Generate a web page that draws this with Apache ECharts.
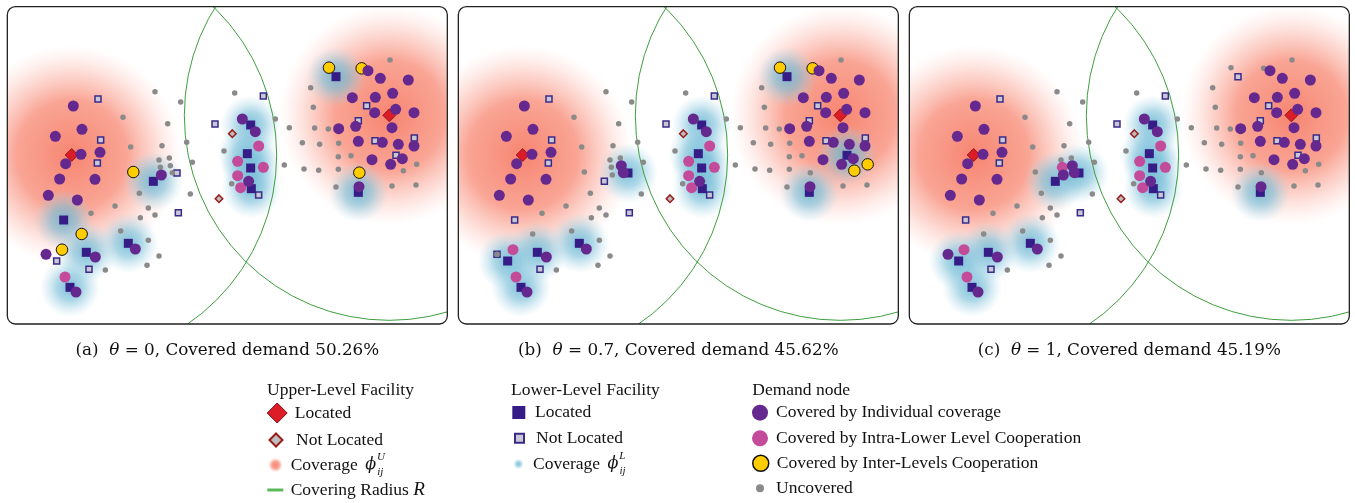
<!DOCTYPE html>
<html>
<head>
<meta charset="utf-8">
<script src="https://cdn.jsdelivr.net/npm/echarts@6/dist/echarts.min.js"></script>
<style>
  html, body { margin: 0; padding: 0; background: #fff; }
  #chart { width: 1355px; height: 503px; }
</style>
</head>
<body>
<div id="chart"></div>
<script>
// panel captions
const panelTags = ['(a)', '(b)', '(c)']
const thetaValues = ['0', '0.7', '1']
const coveredDemand = ['50.26%', '45.62%', '45.19%']

// same sites in every panel; last field = located flag for (a)(b)(c)
const upperFacilities = [
  [215, 465, '111'],
  [1168, 346, '111'],
  [697, 401, '000'],
  [657, 596, '000']
]

const lowerFacilities = [
  [191, 660, '100'], [460, 544, '101'], [531, 519, '011'], [385, 730, '111'],
  [259, 757, '111'], [210, 862, '111'], [170, 783, '011'], [138, 763, '000'],
  [267, 808, '000'], [294, 297, '000'], [302, 420, '000'], [292, 489, '000'],
  [535, 638, '000'], [645, 372, '000'], [790, 288, '000'], [776, 585, '000'],
  [752, 375, '111'], [742, 461, '111'], [752, 504, '111'], [754, 566, '111'],
  [1008, 230, '110'], [1100, 317, '000'], [1075, 362, '000'], [1125, 422, '000'],
  [1243, 414, '000'], [1188, 466, '010'], [1075, 577, '111']
]

// status per panel: I individual, P intra-lower, X inter-levels, U uncovered
const demandNodes = [
  [220, 318, 'III'], [246, 388, 'III'], [166, 409, 'III'], [243, 463, 'III'],
  [300, 457, 'III'], [197, 491, 'III'], [179, 537, 'III'], [285, 538, 'III'],
  [145, 586, 'III'], [232, 600, 'III'],
  [484, 525, 'IUI'], [511, 497, 'UII'], [517, 518, 'UII'], [481, 502, 'UUP'],
  [477, 480, 'UUU'], [508, 474, 'UUU'], [400, 516, 'XUU'],
  [138, 763, 'IUI'], [186, 749, 'XPP'], [245, 702, 'XUU'], [286, 771, 'III'],
  [195, 831, 'PPP'], [228, 876, 'III'], [406, 747, 'III'],
  [465, 275, 'UUU'], [542, 306, 'UUU'], [369, 352, 'UUU'], [503, 371, 'UUU'],
  [392, 441, 'UUU'], [486, 437, 'UUU'], [560, 427, 'UUU'], [672, 453, 'UUU'],
  [577, 487, 'UUU'], [571, 582, 'UUU'], [418, 580, 'UUU'], [345, 618, 'UUU'],
  [273, 640, 'UUU'], [445, 624, 'UUU'], [465, 645, 'UUU'], [421, 653, 'UUU'],
  [362, 693, 'UUU'], [445, 721, 'UUU'], [477, 768, 'UUU'], [441, 796, 'UUU'],
  [316, 810, 'UUU'], [704, 279, 'UUU'], [826, 357, 'UUU'], [868, 383, 'UUU'],
  [853, 495, 'UUU'], [695, 551, 'UUU'],
  [727, 357, 'III'], [766, 395, 'III'], [776, 438, 'PPP'], [713, 484, 'PPP'],
  [790, 502, 'PPP'], [713, 527, 'PPP'], [722, 563, 'PPP'], [746, 544, 'III'],
  [987, 203, 'XXU'], [1085, 205, 'XXU'], [1104, 212, 'III'], [1141, 235, 'III'],
  [1225, 240, 'III'], [1057, 293, 'III'], [1126, 292, 'III'], [1178, 280, 'III'],
  [1124, 338, 'III'], [1187, 328, 'III'], [1242, 338, 'III'], [1016, 386, 'III'],
  [1067, 379, 'III'], [1176, 383, 'III'], [1075, 424, 'III'], [1147, 427, 'III'],
  [1195, 433, 'III'], [1242, 438, 'III'], [1116, 479, 'III'], [1207, 476, 'III'],
  [1172, 493, 'III'], [1077, 560, 'III'], [1078, 518, 'XUU'], [1250, 493, 'UXU'],
  [1210, 512, 'UXU'],
  [932, 263, 'UUU'], [940, 322, 'UUU'], [944, 384, 'UUU'], [985, 387, 'UUU'],
  [907, 428, 'UUU'], [959, 433, 'UUU'], [1016, 430, 'UUU'], [1015, 470, 'UUU'],
  [1053, 467, 'UUU'], [912, 507, 'UUU'], [956, 511, 'UUU'], [1015, 508, 'UUU'],
  [1008, 561, 'UUU'], [1170, 180, 'UUU'], [1176, 558, 'UUU'], [1248, 555, 'UUU']
]

const coveringRadius = 615
const upperCoverSpread = 330
const lowerCoverSpread = 90

const serif = 'Liberation Serif'

const redStops = [
  { offset: 0, color: 'rgba(246,120,98,0.9)' },
  { offset: 0.5, color: 'rgba(247,130,108,0.72)' },
  { offset: 0.75, color: 'rgba(249,152,134,0.36)' },
  { offset: 1, color: 'rgba(255,190,180,0)' }
]
const blueStops = [
  { offset: 0, color: 'rgba(100,180,210,0.85)' },
  { offset: 0.45, color: 'rgba(120,190,216,0.6)' },
  { offset: 1, color: 'rgba(170,215,232,0)' }
]

function pick(rows, p, code) {
  return rows.filter(r => r[2][p] === code).map(r => [r[0], r[1]])
}

function blobRender(stops) {
  return function (params, api) {
    const c = api.coord([api.value(0), api.value(1)])
    const r = api.size([api.value(2), 0])[0]
    return {
      type: 'circle',
      shape: { cx: c[0], cy: c[1], r: r },
      style: { fill: new echarts.graphic.RadialGradient(0.5, 0.5, 0.5, stops) }
    }
  }
}

function ringRender(params, api) {
  const c = api.coord([api.value(0), api.value(1)])
  const r = api.size([api.value(2), 0])[0]
  return {
    type: 'circle',
    shape: { cx: c[0], cy: c[1], r: r },
    style: { fill: 'none', stroke: '#3f9e3f', lineWidth: 1 }
  }
}

const panelLeft = [7.33, 458.33, 909.33]
const panelTop = 6.67
const panelW = 440
const panelH = 317.33

const series = []
panelLeft.forEach((_, p) => {
  const ax = { xAxisIndex: p, yAxisIndex: p }
  const upOpen = pick(upperFacilities, p, '1')
  const lowOpen = pick(lowerFacilities, p, '1')
  series.push({
    name: 'upCov', type: 'custom', ...ax, clip: true, z: 1, silent: true,
    renderItem: blobRender(redStops),
    data: upOpen.map(d => [d[0], d[1], upperCoverSpread])
  })
  series.push({
    name: 'lowCov', type: 'custom', ...ax, clip: true, z: 1, silent: true,
    renderItem: blobRender(blueStops),
    data: lowOpen.map(d => [d[0], d[1], lowerCoverSpread])
  })
  series.push({
    name: 'radius', type: 'custom', ...ax, clip: true, z: 2, silent: true,
    renderItem: ringRender,
    data: upOpen.map(d => [d[0], d[1], coveringRadius])
  })
  const sc = (name, data, symbol, size, itemStyle, z) => ({
    name, type: 'scatter', ...ax, data, symbol, symbolSize: size,
    itemStyle: Object.assign({ opacity: 1 }, itemStyle), z, silent: true
  })
  series.push(sc('upNot', pick(upperFacilities, p, '0'), 'diamond', 7.5,
    { color: '#bdbdbd', borderColor: '#9b1b1b', borderWidth: 1.5 }, 3))
  series.push(sc('upLoc', upOpen, 'diamond', 13,
    { color: '#dc1c26', borderColor: '#7a0f12', borderWidth: 0.8 }, 3))
  series.push(sc('lowNot', pick(lowerFacilities, p, '0'), 'rect', 6,
    { color: '#c9c9d6', borderColor: '#3a2a8a', borderWidth: 1.5 }, 4))
  series.push(sc('lowLoc', lowOpen, 'rect', 9, { color: '#361c86' }, 4))
  series.push(sc('dUnc', pick(demandNodes, p, 'U'), 'circle', 5.5, { color: '#8a8a8a' }, 5))
  series.push(sc('dInter', pick(demandNodes, p, 'X'), 'circle', 11.5,
    { color: '#ffcc00', borderColor: '#111', borderWidth: 1 }, 5))
  series.push(sc('dIntra', pick(demandNodes, p, 'P'), 'circle', 11, { color: '#c44a9a' }, 5))
  series.push(sc('dInd', pick(demandNodes, p, 'I'), 'circle', 11, { color: '#65288e' }, 5))
})

const labels = {
  upLoc: 'Located',
  upNot: 'Not Located',
  upCov: 'Coverage {phi|ϕ}{sup|U}{sub|ij}',
  radius: 'Covering Radius {it|R}',
  lowLoc: 'Located',
  lowNot: 'Not Located',
  lowCov: 'Coverage {phi|ϕ}{sup|L}{sub|ij}',
  dInd: 'Covered by Individual coverage',
  dIntra: 'Covered by Intra-Lower Level Cooperation',
  dInter: 'Covered by Inter-Levels Cooperation',
  dUnc: 'Uncovered'
}

const legendRich = {
  phi: { fontFamily: 'DejaVu Serif', fontStyle: 'italic', fontSize: 16, lineHeight: 26, padding: [0, 1, 0, 3] },
  sup: { fontFamily: serif, fontStyle: 'italic', fontSize: 11, lineHeight: 16, verticalAlign: 'top', width: 0.1 },
  sub: { fontFamily: serif, fontStyle: 'italic', fontSize: 11, lineHeight: 17, verticalAlign: 'bottom' },
  it: { fontFamily: serif, fontStyle: 'italic', fontSize: 19, lineHeight: 26 }
}

const redGrad = { type: 'radial', x: 0.5, y: 0.5, r: 0.5, colorStops: redStops }
const blueGrad = { type: 'radial', x: 0.5, y: 0.5, r: 0.5, colorStops: blueStops }

const legendItems = [
  { name: 'upLoc', icon: 'diamond', left: 266.7, y: 413, w: 20, h: 20, pad: 2.6,
    style: { color: '#dc1c26', borderColor: '#7a0f12', borderWidth: 1 } },
  { name: 'upNot', icon: 'diamond', left: 268.5, y: 440, w: 13, h: 13, pad: 8.5,
    style: { color: '#bdbdbd', borderColor: '#9b1b1b', borderWidth: 2 } },
  { name: 'upCov', icon: 'circle', left: 268, y: 465, w: 15, h: 15, pad: 2.7,
    style: { color: redGrad, borderWidth: 0 } },
  { name: 'radius', icon: 'rect', left: 267.3, y: 490, w: 16, h: 3, pad: 2.4,
    style: { color: '#5bb85b', borderWidth: 0 } },
  { name: 'lowLoc', icon: 'rect', left: 512.3, y: 412.5, w: 13, h: 13, pad: 4.7,
    style: { color: '#361c86', borderWidth: 0 } },
  { name: 'lowNot', icon: 'rect', left: 514, y: 438.3, w: 9, h: 9, pad: 7,
    style: { color: '#c9c9d6', borderColor: '#3a2a8a', borderWidth: 2 } },
  { name: 'lowCov', icon: 'circle', left: 513, y: 464, w: 11, h: 11, pad: 4,
    style: { color: blueGrad, borderWidth: 0 } },
  { name: 'dInd', icon: 'circle', left: 752, y: 412.7, w: 16, h: 16, pad: 3,
    style: { color: '#65288e', borderWidth: 0 } },
  { name: 'dIntra', icon: 'circle', left: 752, y: 438.3, w: 16, h: 16, pad: 3,
    style: { color: '#c44a9a', borderWidth: 0 } },
  { name: 'dInter', icon: 'circle', left: 752, y: 463.3, w: 16, h: 16, pad: 3,
    style: { color: '#ffcc00', borderColor: '#111', borderWidth: 1.5 } },
  { name: 'dUnc', icon: 'circle', left: 756, y: 488.3, w: 8, h: 8, pad: 7,
    style: { color: '#8a8a8a', borderWidth: 0 } }
]

const legends = legendItems.map(it => ({
  data: [{ name: it.name, icon: it.icon, itemStyle: Object.assign({ opacity: 1 }, it.style) }],
  left: it.left,
  top: it.y - 13,
  padding: 0,
  itemWidth: it.w,
  itemHeight: it.h,
  selectedMode: false,
  formatter: name => labels[name],
  textStyle: {
    fontFamily: serif, fontSize: 17.5, color: '#111', lineHeight: 26,
    padding: [0, 0, 0, it.pad], rich: legendRich
  }
}))

const graphics = []
panelLeft.forEach((l, p) => {
  graphics.push({
    type: 'rect', z: 100, silent: true,
    shape: { x: l, y: panelTop, width: panelW, height: panelH, r: 8 },
    style: { fill: 'none', stroke: '#222', lineWidth: 1.3 }
  })
  graphics.push({
    type: 'text', z: 100, silent: true,
    x: l + panelW / 2, y: 351,
    style: {
      text: panelTags[p] + '  {it|θ} = ' + thetaValues[p] + ', Covered demand ' + coveredDemand[p],
      fontFamily: 'DejaVu Serif', fontSize: 16.8, fill: '#111',
      align: 'center', verticalAlign: 'middle',
      rich: { it: { fontFamily: 'DejaVu Serif', fontStyle: 'italic', fontSize: 16.8 } }
    }
  })
})
const headers = [
  ['Upper-Level Facility', 267],
  ['Lower-Level Facility', 511],
  ['Demand node', 752.3]
]
headers.forEach(h => {
  graphics.push({
    type: 'text', silent: true, x: h[1], y: 390,
    style: { text: h[0], fontFamily: serif, fontSize: 17.5, fill: '#111', align: 'left', verticalAlign: 'middle' }
  })
})

const chart = echarts.init(document.getElementById('chart'))
chart.setOption({
  animation: false,
  backgroundColor: '#fff',
  grid: panelLeft.map(l => ({ left: l, top: panelTop, width: panelW, height: panelH })),
  xAxis: panelLeft.map((_, i) => ({ gridIndex: i, type: 'value', min: 22, max: 1342, show: false })),
  yAxis: panelLeft.map((_, i) => ({ gridIndex: i, type: 'value', min: 20, max: 972, inverse: true, show: false })),
  legend: legends,
  graphic: graphics,
  series: series
})
</script>
</body>
</html>
